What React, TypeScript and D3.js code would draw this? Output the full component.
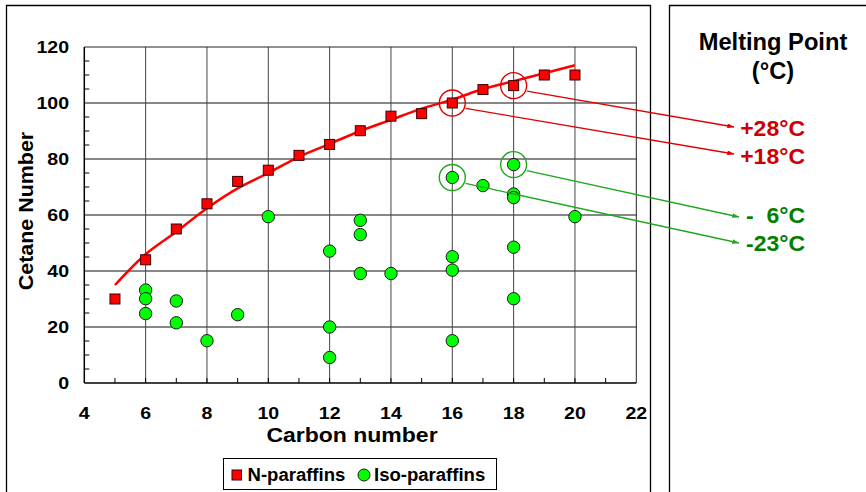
import React from "react";
import * as d3 from "d3";

// ---- data ----
const nParX = [5, 6, 7, 8, 9, 10, 11, 12, 13, 14, 15, 16, 17, 18, 19, 20];
const nParY = [30, 44, 55, 64, 72, 76, 81.3, 85.2, 90.1, 95.3, 96.2, 100, 104.8, 106.2, 110, 110];

const isoX = [6, 6, 6, 7, 7, 8, 9, 10, 12, 12, 12, 13, 13, 13, 14, 16, 16, 16, 16, 17, 18, 18, 18, 18, 18, 20];
const isoY = [33.2, 30.1, 24.8, 29.3, 21.5, 15.1, 24.4, 59.4, 47.1, 20, 9.1, 58.1, 53, 39.1, 39.1, 73.4, 45.1, 40.3, 15.1, 70.5, 78, 67.5, 66.2, 48.5, 30.1, 59.4];

const trendX = [5, 6, 7, 8, 9, 10, 11, 12, 13, 14, 15, 16, 17, 18, 19, 20];
const trendY = [35, 46, 54, 62.4, 69.5, 75, 80.8, 85.4, 90, 94, 98, 101.2, 105, 107.8, 110.6, 113.5];

const xTicks = [4, 6, 8, 10, 12, 14, 16, 18, 20, 22];
const yTicks = [0, 20, 40, 60, 80, 100, 120];

const meltLabels = ["+28°C", "+18°C", "-  6°C", "-23°C"];
const meltPointX = [18, 16, 18, 16];
const meltPointY = [106.2, 100, 78, 73.4];
const meltGroup = ["n", "n", "iso", "iso"];

const seriesNames = ["N-paraffins", "Iso-paraffins"];

// ---- layout ----
const W = 866;
const H = 492;
const plot = { left: 84.3, right: 636.3, top: 47, bottom: 383 };
const FONT = "'Liberation Sans', Arial, Helvetica, sans-serif";
const RED_TXT = "#cc0000";
const GREEN_TXT = "#008000";
const RED_LN = "#e00000";
const GREEN_LN = "#1ea81e";

// label layout (positions of arrow tips & texts in the side panel)
const tipX = [734, 734, 739, 739];
const tipY = [127, 154, 217, 243];
const labelBase = [136, 164, 223, 251];

function Txt(props: any) {
  const { x, y, sx = 1, rotate, anchor = "start", size, fill = "#000", children } = props;
  const tr = `translate(${x},${y})` + (rotate ? ` rotate(${rotate})` : "") + ` scale(${sx},1)`;
  return (
    <text
      transform={tr}
      textAnchor={anchor}
      fontFamily={FONT}
      fontWeight="bold"
      fontSize={size}
      fill={fill}
      style={{ whiteSpace: "pre" }}
    >
      {children}
    </text>
  );
}

export default function App() {
  const x = d3.scaleLinear().domain([4, 22]).range([plot.left, plot.right]);
  const y = d3.scaleLinear().domain([0, 120]).range([plot.bottom, plot.top]);

  const line = d3
    .line<number>()
    .x((_, i) => x(trendX[i]))
    .y((d) => y(d))
    .curve(d3.curveCatmullRom.alpha(0.5));

  const minorY = d3.range(0, 121, 5).filter((v) => v % 20 !== 0);
  const minorX = d3.range(5, 22, 1);
  const gridX = xTicks.filter((v) => v > 4 && v < 22);
  const gridY = yTicks.filter((v) => v > 0 && v < 120);

  const annR = 13;

  return (
    <svg
      width={W}
      height={H}
      style={{ position: "absolute", left: 0, top: 0, background: "#fff" }}
    >
      <defs>
        <marker id="arrRed" viewBox="0 0 8 6" refX="8" refY="3" markerWidth="7" markerHeight="5" markerUnits="userSpaceOnUse" orient="auto">
          <path d="M0,0 L8,3 L0,6 z" fill={RED_LN} />
        </marker>
        <marker id="arrGreen" viewBox="0 0 8 6" refX="8" refY="3" markerWidth="7" markerHeight="5" markerUnits="userSpaceOnUse" orient="auto">
          <path d="M0,0 L8,3 L0,6 z" fill={GREEN_LN} />
        </marker>
      </defs>

      {/* panels */}
      <path d="M6.5,500 L6.5,5.5 L650.5,5.5 L650.5,500" fill="none" stroke="#000" strokeWidth={1.3} />
      <path d="M669.5,500 L669.5,5.5 L870,5.5" fill="none" stroke="#000" strokeWidth={1.3} />

      {/* gridlines */}
      {gridY.map((v) => (
        <line key={"gy" + v} x1={plot.left} x2={plot.right} y1={y(v)} y2={y(v)} stroke="#111" strokeWidth={1} />
      ))}
      {gridX.map((v) => (
        <line key={"gx" + v} x1={x(v)} x2={x(v)} y1={plot.top} y2={plot.bottom} stroke="#444" strokeWidth={1} />
      ))}
      {/* frame */}
      <line x1={plot.left} x2={plot.right} y1={plot.top} y2={plot.top} stroke="#222" strokeWidth={1} />
      <line x1={plot.right} x2={plot.right} y1={plot.top} y2={plot.bottom} stroke="#222" strokeWidth={1} />
      <line x1={plot.left} x2={plot.left} y1={plot.top} y2={plot.bottom} stroke="#000" strokeWidth={1.5} />
      <line x1={plot.left} x2={plot.right} y1={plot.bottom} y2={plot.bottom} stroke="#000" strokeWidth={1.5} />

      {/* minor ticks */}
      {minorY.map((v) => (
        <line key={"my" + v} x1={plot.left} x2={plot.left + 5} y1={y(v)} y2={y(v)} stroke="#000" strokeWidth={1} />
      ))}
      {minorX.map((v) => (
        <line key={"mx" + v} x1={x(v)} x2={x(v)} y1={plot.bottom} y2={plot.bottom - 5} stroke="#000" strokeWidth={1} />
      ))}

      {/* tick labels */}
      {yTicks.map((v) => (
        <Txt key={"yl" + v} x={69} y={y(v) + 6} anchor="end" size={17} sx={1.15}>
          {String(v)}
        </Txt>
      ))}
      {xTicks.map((v) => (
        <Txt key={"xl" + v} x={x(v)} y={419} anchor="middle" size={17} sx={1.15}>
          {String(v)}
        </Txt>
      ))}

      {/* axis titles */}
      <Txt x={352} y={442} anchor="middle" size={20} sx={1.15}>
        Carbon number
      </Txt>
      <Txt x={32.5} y={211} anchor="middle" size={21} sx={1.02} rotate={-90}>
        Cetane Number
      </Txt>

      {/* trend line */}
      <path d={line(trendY) || ""} fill="none" stroke="#ff0000" strokeWidth={2.5} />

      {/* iso-paraffins */}
      {isoY.map((v, i) => (
        <circle key={"iso" + i} cx={x(isoX[i])} cy={y(v)} r={6.2} fill="#00ff00" stroke="#1a1a1a" strokeWidth={1} />
      ))}

      {/* n-paraffins */}
      {nParY.map((v, i) => (
        <rect key={"np" + i} x={x(nParX[i]) - 5} y={y(v) - 5} width={10} height={10} fill="#ff0000" stroke="#3a0000" strokeWidth={1} />
      ))}

      {/* annotations */}
      {meltLabels.map((lab, i) => {
        const cx = x(meltPointX[i]);
        const cy = y(meltPointY[i]);
        const isN = meltGroup[i] === "n";
        const col = isN ? RED_LN : GREEN_LN;
        const dx = tipX[i] - cx;
        const dy = tipY[i] - cy;
        const len = Math.sqrt(dx * dx + dy * dy);
        const sx0 = cx + (dx / len) * (annR + 0.5);
        const sy0 = cy + (dy / len) * (annR + 0.5) + 3;
        return (
          <g key={"ann" + i}>
            <circle cx={cx} cy={cy} r={annR} fill="none" stroke={col} strokeWidth={1.4} />
            <line
              x1={sx0}
              y1={sy0}
              x2={tipX[i]}
              y2={tipY[i]}
              stroke={col}
              strokeWidth={1.3}
              markerEnd={isN ? "url(#arrRed)" : "url(#arrGreen)"}
            />
            <Txt x={805} y={labelBase[i]} anchor="end" size={21.5} sx={1.07} fill={isN ? RED_TXT : GREEN_TXT}>
              {lab}
            </Txt>
          </g>
        );
      })}

      {/* side panel title */}
      <Txt x={773} y={50} anchor="middle" size={23} sx={1.03}>
        Melting Point
      </Txt>
      <Txt x={773} y={78.5} anchor="middle" size={23} sx={1.03}>
        (°C)
      </Txt>

      {/* legend */}
      <rect x={223.5} y={458.5} width={273} height={31} fill="#fff" stroke="#000" strokeWidth={1} />
      <rect x={232} y={470} width={9.5} height={10} fill="#ff0000" stroke="#3a0000" strokeWidth={1} />
      <Txt x={247.5} y={481} size={17.5} sx={1.06}>
        {seriesNames[0]}
      </Txt>
      <circle cx={364} cy={475} r={6} fill="#00ff00" stroke="#1a1a1a" strokeWidth={1} />
      <Txt x={374} y={481} size={17.5} sx={1.06}>
        {seriesNames[1]}
      </Txt>
    </svg>
  );
}
